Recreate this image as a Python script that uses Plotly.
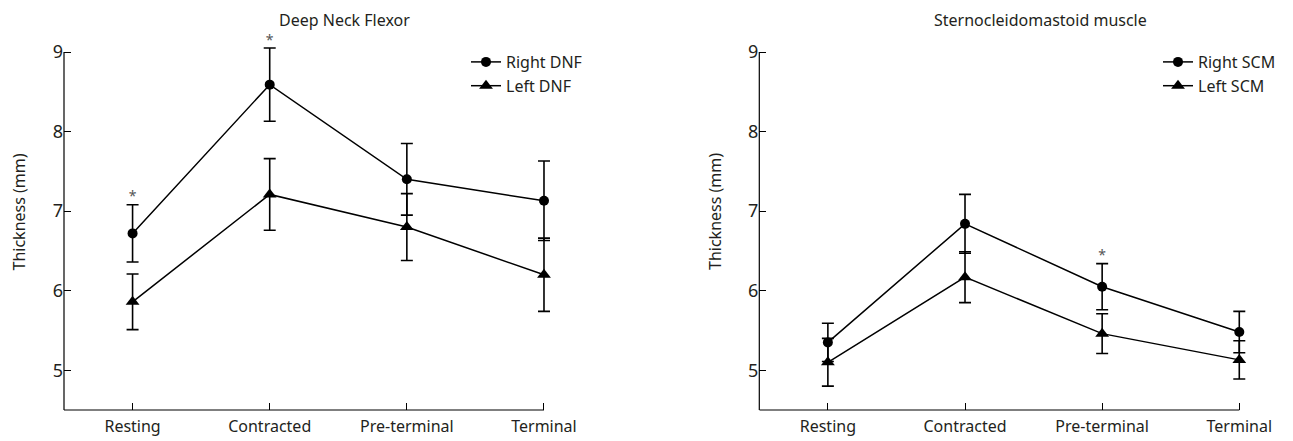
import plotly.graph_objects as go

categories = ["Resting", "Contracted", "Pre-terminal", "Terminal"]

# Deep Neck Flexor
right_dnf = [6.72, 8.59, 7.40, 7.13]
right_dnf_err = [0.36, 0.46, 0.45, 0.50]
left_dnf = [5.86, 7.21, 6.80, 6.20]
left_dnf_err = [0.35, 0.45, 0.42, 0.46]
dnf_sig = ["Resting", "Contracted"]

# Sternocleidomastoid
right_scm = [5.35, 6.84, 6.05, 5.48]
right_scm_err = [0.24, 0.37, 0.29, 0.26]
left_scm = [5.10, 6.17, 5.46, 5.13]
left_scm_err = [0.30, 0.32, 0.25, 0.24]
scm_sig = ["Pre-terminal"]

y_ticks = [5, 6, 7, 8, 9]
y_min, y_max = 4.5, 9
x_min, x_max = -0.5, 3

FONT = "Noto Sans, Open Sans, sans-serif"
TXT = "#231f20"
OFF = 8                      # default page body margin
W, H = 1293 - OFF, 441 - OFF

# pixel geometry of the panels (page pixels)
PX_PER_CAT = 137.14
PX_PER_MM = 79.55
X_PAD, Y_PAD = 0.1, 0.1      # extra room so error bars are not clipped


def px(x):
    return (x - OFF) / W


def py(y):
    return 1 - (y - OFF) / H


xs = list(range(len(categories)))
fig = go.Figure()


def add_series(y, err, name, symbol, size, xa, ya, legend):
    fig.add_trace(go.Scatter(
        x=xs, y=y, name=name, mode="lines+markers",
        line=dict(color="black", width=1.5),
        marker=dict(symbol=symbol, size=size, color="black"),
        error_y=dict(type="data", array=err, visible=True, color="black",
                     thickness=1.6, width=6),
        xaxis=xa, yaxis=ya, legend=legend, cliponaxis=False,
    ))


def add_sig(sig, means, errs, xa, ya):
    idx = [categories.index(c) for c in sig]
    fig.add_trace(go.Scatter(
        x=idx, y=[means[i] + errs[i] for i in idx], mode="text",
        text=["*"] * len(idx), textposition="top center",
        textfont=dict(family=FONT, size=14, color="#555555"),
        showlegend=False, hoverinfo="skip", cliponaxis=False,
        xaxis=xa, yaxis=ya,
    ))


add_series(right_dnf, right_dnf_err, "Right DNF", "circle", 10, "x", "y", "legend")
add_series(left_dnf, left_dnf_err, "Left DNF", "triangle-up", 12, "x", "y", "legend")
add_series(right_scm, right_scm_err, "Right SCM", "circle", 10, "x2", "y2", "legend2")
add_series(left_scm, left_scm_err, "Left SCM", "triangle-up", 12, "x2", "y2", "legend2")
add_sig(dnf_sig, right_dnf, right_dnf_err, "x", "y")
add_sig(scm_sig, right_scm, right_scm_err, "x2", "y2")

annotations = []
annotations.append(dict(x=px(344), y=py(20), xref="paper", yref="paper",
                        text="Deep Neck Flexor", showarrow=False,
                        xanchor="center", yanchor="middle",
                        font=dict(family=FONT, size=16, color=TXT)))
annotations.append(dict(x=px(1040), y=py(20), xref="paper", yref="paper",
                        text="Sternocleidomastoid muscle", showarrow=False,
                        xanchor="center", yanchor="middle",
                        font=dict(family=FONT, size=16, color=TXT)))
for xp in (18.5, 715):
    annotations.append(dict(x=px(xp), y=py(212), xref="paper", yref="paper",
                            text="Thickness (mm)", showarrow=False, textangle=-90,
                            xanchor="center", yanchor="middle",
                            font=dict(family=FONT, size=16, color=TXT)))

axis_common = dict(showline=False, showgrid=False, zeroline=False,
                   ticks="inside", ticklen=7, tickcolor="black",
                   tickwidth=1.2, automargin=False)

xcommon = dict(axis_common, range=[x_min, x_max + X_PAD], tickvals=xs,
               ticktext=categories, ticklabelstandoff=5,
               tickfont=dict(family=FONT, size=16, color=TXT))
ycommon = dict(axis_common, range=[y_min, y_max + Y_PAD], tickvals=y_ticks,
               tickfont=dict(family=FONT, size=18, color=TXT))

y_bottom = 410
y_top = y_bottom - (y_max + Y_PAD - y_min) * PX_PER_MM
ydom = [py(y_bottom), py(y_top)]
span_x = (x_max + X_PAD - x_min) * PX_PER_CAT

shapes = []
for xa, ya in (("x", "y"), ("x2", "y2")):
    shapes.append(dict(type="line", xref=xa + " domain", yref=ya,
                       x0=0, x1=0, y0=y_min, y1=y_max,
                       line=dict(color="black", width=1.2)))
    shapes.append(dict(type="line", xref=xa, yref=ya + " domain",
                       x0=x_min, x1=x_max, y0=0, y1=0,
                       line=dict(color="black", width=1.2)))

fig.update_layout(
    width=W, height=H,
    margin=dict(l=0, r=0, t=0, b=0),
    paper_bgcolor="white", plot_bgcolor="white",
    font=dict(family=FONT, size=16, color=TXT),
    xaxis=dict(xcommon, domain=[px(64), px(64 + span_x)], anchor="y"),
    yaxis=dict(ycommon, domain=ydom, anchor="x"),
    xaxis2=dict(xcommon, domain=[px(759.3), px(759.3 + span_x)], anchor="y2"),
    yaxis2=dict(ycommon, domain=ydom, anchor="x2"),
    legend=dict(x=px(466), y=py(45), xanchor="left", yanchor="top",
                bgcolor="rgba(0,0,0,0)", font=dict(family=FONT, size=16, color=TXT),
                tracegroupgap=0),
    legend2=dict(x=px(1158), y=py(45), xanchor="left", yanchor="top",
                 bgcolor="rgba(0,0,0,0)", font=dict(family=FONT, size=16, color=TXT),
                 tracegroupgap=0),
    annotations=annotations,
    shapes=shapes,
)

fig.write_html("out.html")
